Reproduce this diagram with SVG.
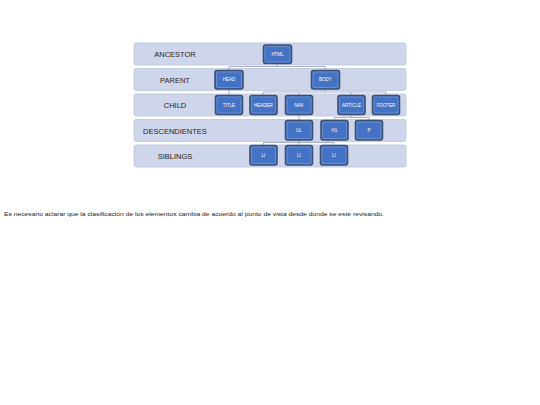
<svg xmlns="http://www.w3.org/2000/svg" width="540" height="405" viewBox="0 0 540 405">
<style>
.band{fill:#cfd5ea;stroke:#bcc5df;stroke-width:0.8}
.bl{font-family:"Liberation Sans",Arial,sans-serif;font-size:7.5px;font-weight:normal;fill:#262626;text-anchor:middle}
.nd{fill:#4472c4;stroke:#3b5173;stroke-width:1.6}
.ni{fill:none;stroke:#8fa8d8;stroke-width:0.5}
.nt{font-family:"Liberation Sans",Arial,sans-serif;font-size:4.5px;fill:#ffffff;text-anchor:middle}
.cn{fill:none;stroke:#8593ad;stroke-width:0.7}
</style>
<rect width="540" height="405" fill="#ffffff"/>
<g id="bands">
<rect class="band" x="134" y="43" width="272" height="22" rx="2"/>
<rect class="band" x="134" y="68.5" width="272" height="22" rx="2"/>
<rect class="band" x="134" y="94" width="272" height="22" rx="2"/>
<rect class="band" x="134" y="119.5" width="272" height="22" rx="2"/>
<rect class="band" x="134" y="145" width="272" height="22" rx="2"/>
<text class="bl" x="175" y="57">ANCESTOR</text>
<text class="bl" x="175" y="82.5">PARENT</text>
<text class="bl" x="175" y="108">CHILD</text>
<text class="bl" x="175" y="133.5">DESCENDIENTES</text>
<text class="bl" x="175" y="159">SIBLINGS</text>
</g>
<g id="connectors">
<path class="cn" d="M277 64V66.5M229 66.5H325M229 66.5V70M325 66.5V70"/>
<path class="cn" d="M229 89V95"/>
<path class="cn" d="M325 89V92M263 92H386M263 92V95M299 92V95M351 92V95M386 92V95"/>
<path class="cn" d="M299 115V120"/>
<path class="cn" d="M351 115V117.5M334.5 117.5H369M334.5 117.5V120M369 117.5V120"/>
<path class="cn" d="M299 140V142.5M263.5 142.5H334M263.5 142.5V145M299 142.5V145M334 142.5V145"/>
</g>
<g id="n-html"><rect class="nd" x="263.5" y="45" width="28" height="18.5" rx="2"/><rect class="ni" x="265" y="46.5" width="25" height="15.5" rx="1"/><text class="nt" x="277.5" y="55.8">HTML</text></g>
<g id="n-head"><rect class="nd" x="215" y="70.5" width="28" height="18.5" rx="2"/><rect class="ni" x="216.5" y="72" width="25" height="15.5" rx="1"/><text class="nt" x="229" y="81.3">HEAD</text></g>
<g id="n-body"><rect class="nd" x="311.5" y="70.5" width="28" height="18.5" rx="2"/><rect class="ni" x="313" y="72" width="25" height="15.5" rx="1"/><text class="nt" x="325.5" y="81.3">BODY</text></g>
<g id="n-title"><rect class="nd" x="215.5" y="95.5" width="27" height="19" rx="2"/><rect class="ni" x="217" y="97" width="24" height="16" rx="1"/><text class="nt" x="229" y="106.6">TITLE</text></g>
<g id="n-header"><rect class="nd" x="250" y="95.5" width="27" height="19" rx="2"/><rect class="ni" x="251.5" y="97" width="24" height="16" rx="1"/><text class="nt" x="263.5" y="106.6">HEADER</text></g>
<g id="n-nav"><rect class="nd" x="285.5" y="95.5" width="27" height="19" rx="2"/><rect class="ni" x="287" y="97" width="24" height="16" rx="1"/><text class="nt" x="299" y="106.6">NAV</text></g>
<g id="n-article"><rect class="nd" x="338" y="95.5" width="27" height="19" rx="2"/><rect class="ni" x="339.5" y="97" width="24" height="16" rx="1"/><text class="nt" x="351.5" y="106.6">ARTICLE</text></g>
<g id="n-footer"><rect class="nd" x="372.5" y="95.5" width="27" height="19" rx="2"/><rect class="ni" x="374" y="97" width="24" height="16" rx="1"/><text class="nt" x="386" y="106.6">FOOTER</text></g>
<g id="n-ul"><rect class="nd" x="285.5" y="120.5" width="27" height="19.5" rx="2"/><rect class="ni" x="287" y="122" width="24" height="16.5" rx="1"/><text class="nt" x="299" y="131.9">UL</text></g>
<g id="n-h1"><rect class="nd" x="321" y="120.5" width="27" height="19.5" rx="2"/><rect class="ni" x="322.5" y="122" width="24" height="16.5" rx="1"/><text class="nt" x="334.5" y="131.9">H1</text></g>
<g id="n-p"><rect class="nd" x="355.5" y="120.5" width="27" height="19.5" rx="2"/><rect class="ni" x="357" y="122" width="24" height="16.5" rx="1"/><text class="nt" x="369" y="131.9">P</text></g>
<g id="n-li1"><rect class="nd" x="250" y="145.5" width="27" height="19.5" rx="2"/><rect class="ni" x="251.5" y="147" width="24" height="16.5" rx="1"/><text class="nt" x="263.5" y="156.9">LI</text></g>
<g id="n-li2"><rect class="nd" x="285.5" y="145.5" width="27" height="19.5" rx="2"/><rect class="ni" x="287" y="147" width="24" height="16.5" rx="1"/><text class="nt" x="299" y="156.9">LI</text></g>
<g id="n-li3"><rect class="nd" x="320.5" y="145.5" width="27" height="19.5" rx="2"/><rect class="ni" x="322" y="147" width="24" height="16.5" rx="1"/><text class="nt" x="334" y="156.9">LI</text></g>
<text x="4" y="216" font-family="'Liberation Sans',Arial,sans-serif" font-size="6" fill="#1a1a1a" textLength="380" lengthAdjust="spacingAndGlyphs">Es necesario aclarar que la clasificación de los elementos cambia de acuerdo al punto de vista desde donde se esté revisando.</text>
</svg>
